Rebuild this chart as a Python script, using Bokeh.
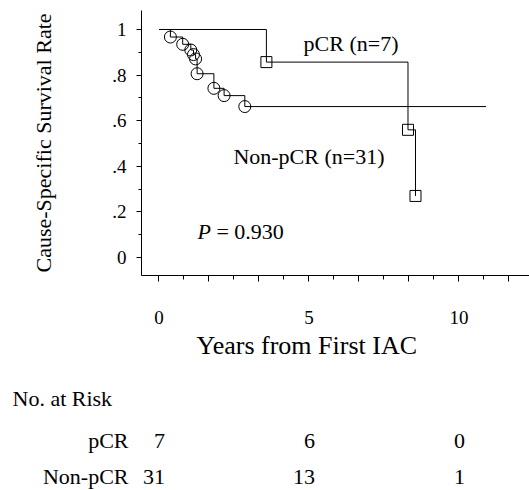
from bokeh.plotting import figure
from bokeh.models import Range1d, FixedTicker, Title
from bokeh.layouts import column
from bokeh.embed import file_html
from bokeh.resources import INLINE
from bokeh.core.properties import value

# ---------------- data ----------------
pcr_times = [3.58, 8.30, 8.55]
pcr_surv = [0.857, 0.560, 0.270]

nonpcr_times = [0.38, 0.79, 1.06, 1.15, 1.22, 1.27, 1.83, 2.17, 2.86]
nonpcr_surv = [0.967, 0.935, 0.910, 0.890, 0.871, 0.806, 0.742, 0.710, 0.662]
nonpcr_last_followup = 10.9

y_tick_values = [0, 0.2, 0.4, 0.6, 0.8, 1.0]
y_tick_labels = ["0", ".2", ".4", ".6", ".8", "1"]
y_minor_ticks = [0.1, 0.3, 0.5, 0.7, 0.9]

x_tick_values = [0, 5 / 3, 10 / 3, 5, 20 / 3, 25 / 3, 10, 35 / 3]
x_tick_labels = ["0", "", "", "5", "", "", "10", ""]
x_minor_ticks = [5 / 6, 5 / 2, 25 / 6, 35 / 6, 15 / 2, 55 / 6, 65 / 6]

risk_times = [0, 5, 10]
risk_groups = ["pCR", "Non-pCR"]
risk_pcr = [7, 6, 0]
risk_nonpcr = [31, 13, 1]

group_labels = ["pCR (n=7)", "Non-pCR (n=31)"]
p_value_text = "= 0.930"

FONT_NAME = "Liberation Serif"
FONT = value(FONT_NAME)

TOP_H = 372          # height of the survival-plot canvas
LEFT = 141           # left border (y axis position)

# ---------------- survival plot ----------------
p = figure(width=529, height=TOP_H, output_backend="svg", toolbar_location=None,
           x_range=Range1d(-0.5833, 12.35), y_range=Range1d(-0.0789, 1.0833),
           min_border_left=LEFT, min_border_right=0, min_border_top=10,
           min_border_bottom=TOP_H - 275)
p.outline_line_color = None
p.xgrid.visible = False
p.ygrid.visible = False
p.background_fill_color = "white"
p.border_fill_color = "white"

p.step(x=[0] + pcr_times, y=[1.0] + pcr_surv, mode="after", line_color="black", line_width=1)
p.step(x=[0] + nonpcr_times + [nonpcr_last_followup],
       y=[1.0] + nonpcr_surv + [nonpcr_surv[-1]], mode="after", line_color="black", line_width=1)

p.scatter(x=pcr_times, y=pcr_surv, marker="square", size=11, fill_color=None,
          line_color="black", line_width=1)
p.scatter(x=nonpcr_times, y=nonpcr_surv, marker="circle", size=12, fill_color=None,
          line_color="black", line_width=1)

p.text(x=[4.82], y=[0.939], text=[group_labels[0]], text_font=FONT, text_font_size="22px",
       text_baseline="alphabetic", text_align="left", text_color="black")
p.text(x=[2.48], y=[0.443], text=[group_labels[1]], text_font=FONT, text_font_size="22px",
       text_baseline="alphabetic", text_align="left", text_color="black")
p.text(x=[1.28], y=[0.114], text=["P"], text_font=FONT, text_font_size="22px",
       text_font_style="italic", text_baseline="alphabetic", text_align="left", text_color="black")
p.text(x=[1.28], y=[0.114], text=[p_value_text], x_offset=19, text_font=FONT, text_font_size="22px",
       text_baseline="alphabetic", text_align="left", text_color="black")

for ax in (p.xaxis[0], p.yaxis[0]):
    ax.axis_line_color = "black"
    ax.axis_line_width = 1
    ax.major_tick_line_color = "black"
    ax.minor_tick_line_color = "black"
    ax.major_tick_in = 0
    ax.minor_tick_in = 0
    ax.major_label_text_font = FONT_NAME
    ax.major_label_text_font_size = "19px"
    ax.major_label_text_color = "black"

p.yaxis.ticker = FixedTicker(ticks=y_tick_values, minor_ticks=y_minor_ticks)
p.yaxis.major_label_overrides = {v: l for v, l in zip(y_tick_values, y_tick_labels)}
p.yaxis.major_tick_out = 5
p.yaxis.minor_tick_out = 3
p.yaxis.major_label_standoff = 10
p.yaxis.axis_label = "Cause-Specific Survival Rate"
p.yaxis.axis_label_text_font = FONT_NAME
p.yaxis.axis_label_text_font_size = "22px"
p.yaxis.axis_label_text_font_style = "normal"
p.yaxis.axis_label_text_color = "black"
p.yaxis.axis_label_standoff = 53

p.xaxis.ticker = FixedTicker(ticks=x_tick_values, minor_ticks=x_minor_ticks)
p.xaxis.major_label_overrides = {v: l for v, l in zip(x_tick_values, x_tick_labels)}
p.xaxis.major_tick_out = 6
p.xaxis.minor_tick_out = 4
p.xaxis.major_label_standoff = 29

# x-axis title below the tick labels, placed under 5 years as in the original
xtitle = Title(text="Years from First IAC", align="left", offset=196 - LEFT, standoff=4,
               text_font=FONT_NAME, text_font_size="26px", text_font_style="normal",
               text_color="black")
p.add_layout(xtitle, "below")

# ---------------- number-at-risk table ----------------
BOT_H = 490 - TOP_H
TAB_TOP = 38
FRAME_H = BOT_H - TAB_TOP
q = figure(width=529, height=BOT_H, output_backend="svg", toolbar_location=None,
           x_range=p.x_range, y_range=Range1d(FRAME_H, 0),
           min_border_left=LEFT, min_border_right=0, min_border_top=TAB_TOP, min_border_bottom=0)
q.outline_line_color = None
q.xaxis.visible = False
q.grid.visible = False
q.background_fill_color = "white"
q.border_fill_color = "white"

rtitle = Title(text="No. at Risk", align="left", offset=12 - LEFT, standoff=0,
               text_font=FONT_NAME, text_font_size="22px", text_font_style="normal",
               text_color="black")
q.add_layout(rtitle, "above")

# row centres in canvas pixels 440 and 476 -> table-frame rows
row_y = [440 - TOP_H - TAB_TOP, 476 - TOP_H - TAB_TOP]
q.text(x=risk_times, y=[row_y[0]] * len(risk_times), text=[str(v) for v in risk_pcr], x_offset=6,
       text_font=FONT, text_font_size="22px", text_baseline="middle", text_align="right",
       text_color="black")
q.text(x=risk_times, y=[row_y[1]] * len(risk_times), text=[str(v) for v in risk_nonpcr], x_offset=6,
       text_font=FONT, text_font_size="22px", text_baseline="middle", text_align="right",
       text_color="black")

q.yaxis.ticker = FixedTicker(ticks=row_y, minor_ticks=[])
q.yaxis.major_label_overrides = {v: l for v, l in zip(row_y, risk_groups)}
q.yaxis.axis_line_color = None
q.yaxis.major_tick_line_color = None
q.yaxis.minor_tick_line_color = None
q.yaxis.major_tick_out = 0
q.yaxis.major_tick_in = 0
q.yaxis.major_label_standoff = 13
q.yaxis.major_label_text_font = FONT_NAME
q.yaxis.major_label_text_font_size = "22px"
q.yaxis.major_label_text_color = "black"

layout = column(p, q)
open("out.html", "w").write(file_html(layout, INLINE))
